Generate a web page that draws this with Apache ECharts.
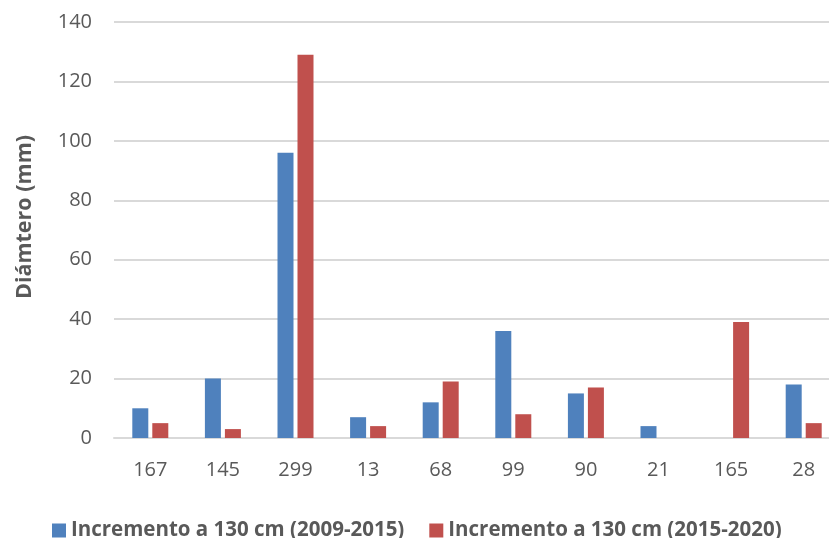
<!DOCTYPE html>
<html>
<head>
<meta charset="utf-8">
<script src="https://cdn.jsdelivr.net/npm/echarts@6/dist/echarts.min.js"></script>
<style>
  html, body { margin: 0; padding: 0; background: #ffffff; overflow: hidden; }
  /* The plot area runs slightly past the right edge of the window */
  #chart { width: 842px; height: 538px; }
</style>
</head>
<body>
<div id="chart"></div>
<script>
// Tree codes along the x axis
const categories = ['167', '145', '299', '13', '68', '99', '90', '21', '165', '28'];

// Diameter increment at 130 cm (mm)
const seriesNames = ['Incremento a 130 cm (2009-2015)', 'Incremento a 130 cm (2015-2020)'];
const increment2009_2015 = [10, 20, 96, 7, 12, 36, 15, 4, 0, 18];
const increment2015_2020 = [5, 3, 129, 4, 19, 8, 17, 0, 39, 5];

const yTicks = { min: 0, max: 140, interval: 20 };

const textColor = '#595959';
const gridColor = '#d9d9d9';
const fontFamily = '"Open Sans", "Liberation Sans", sans-serif';

const chart = echarts.init(document.getElementById('chart'), null, { renderer: 'canvas' });

chart.setOption({
  backgroundColor: '#ffffff',
  animation: false,
  grid: { left: 114, top: 22, width: 726, height: 416, containLabel: false },
  legend: {
    top: 515,
    left: 47,
    itemWidth: 14,
    itemHeight: 14,
    itemGap: 25,
    icon: 'rect',
    textStyle: { color: textColor, fontSize: 20.5, fontWeight: 'bold', fontFamily: fontFamily },
    data: seriesNames
  },
  xAxis: {
    type: 'category',
    data: categories,
    axisLine: { show: true, lineStyle: { color: gridColor, width: 2 } },
    axisTick: { show: false },
    axisLabel: { color: textColor, fontSize: 20, fontFamily: fontFamily, margin: 22 }
  },
  yAxis: {
    type: 'value',
    min: yTicks.min,
    max: yTicks.max,
    interval: yTicks.interval,
    name: 'Diámtero (mm)',
    nameLocation: 'middle',
    nameGap: 78,
    nameTextStyle: { color: textColor, fontSize: 21.5, fontWeight: 'bold', fontFamily: fontFamily, padding: [0, 0, 0, 26] },
    axisLine: { show: false },
    axisTick: { show: false },
    axisLabel: { color: textColor, fontSize: 20, fontFamily: fontFamily, margin: 22 },
    splitLine: { lineStyle: { color: gridColor, width: 2 } }
  },
  series: [
    {
      name: seriesNames[0],
      type: 'bar',
      data: increment2009_2015,
      barWidth: 16,
      barGap: '25%',
      itemStyle: { color: '#4f81bd' }
    },
    {
      name: seriesNames[1],
      type: 'bar',
      data: increment2015_2020,
      barWidth: 16,
      barGap: '25%',
      itemStyle: { color: '#c0504d' }
    }
  ]
});
</script>
</body>
</html>
